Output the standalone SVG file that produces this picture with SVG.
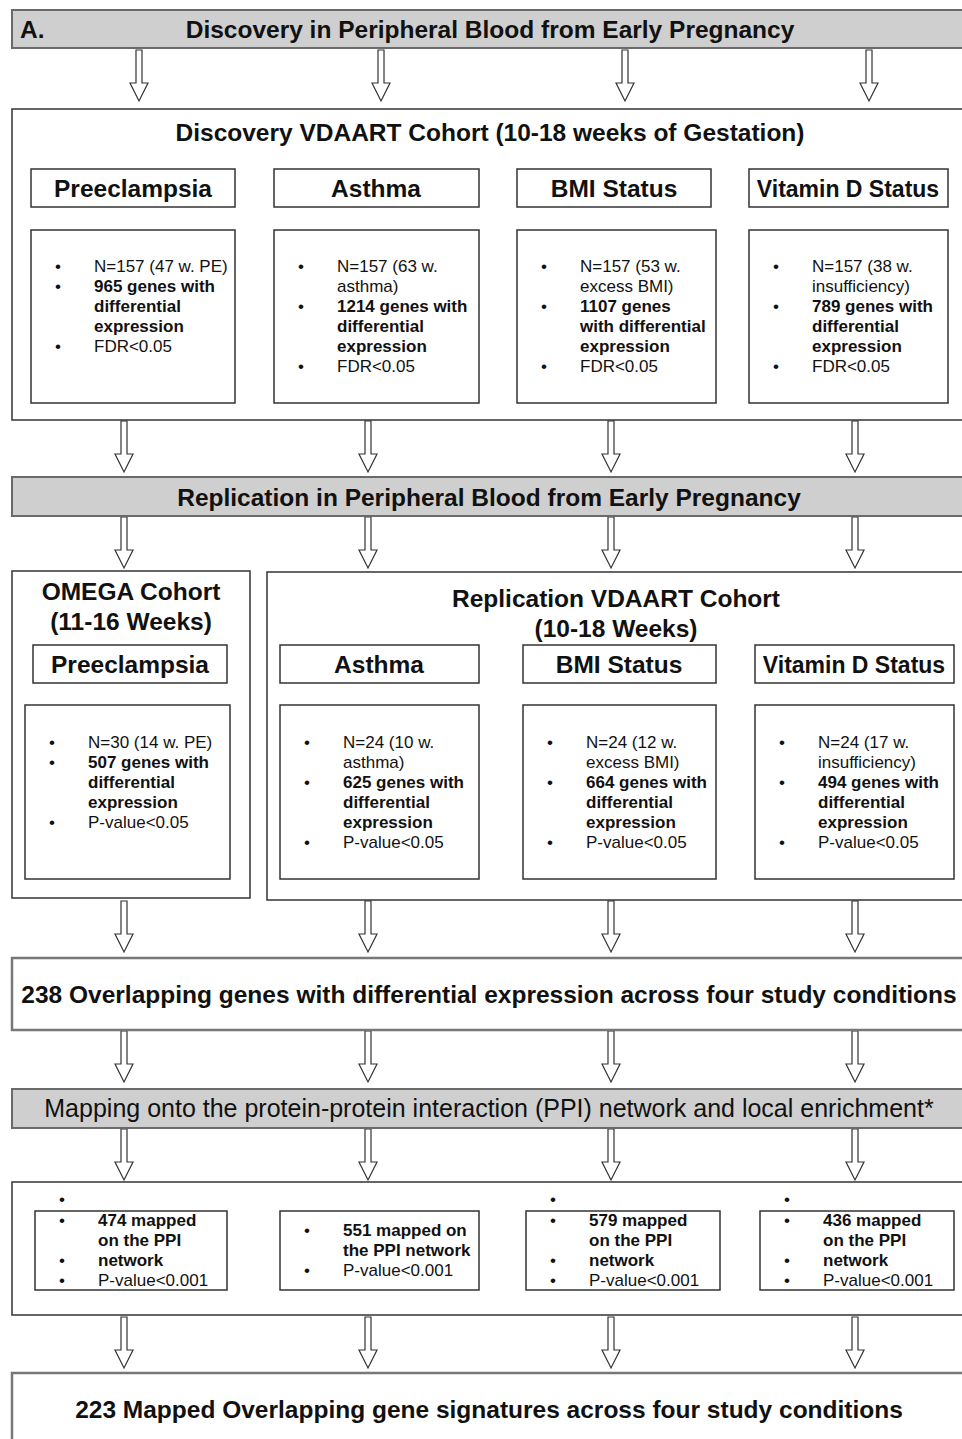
<svg xmlns="http://www.w3.org/2000/svg" width="962" height="1439" viewBox="0 0 962 1439">
<defs>
<style>
.bar{fill:#cfcfcf;stroke:#6a6a6a;stroke-width:2}
.box{fill:#fff;stroke:#333;stroke-width:1.5}
.dbl{fill:#fff;stroke:#777;stroke-width:2.5}
.arr{fill:#fff;stroke:#333;stroke-width:1.2}
.h{font-family:"Liberation Sans",Arial,sans-serif;font-weight:bold;font-size:24.5px;fill:#111;text-anchor:middle}
.lab{font-family:"Liberation Sans",Arial,sans-serif;font-weight:bold;font-size:24.5px;fill:#111;text-anchor:middle}
.vd{font-size:23px}
.t{font-family:"Liberation Sans",Arial,sans-serif;font-size:17px;fill:#111}
.b{font-weight:bold}
</style>
<path id="ar" class="arr" d="M-3,0 L3,0 L3,33 L9,33 L0,51 L-9,33 L-3,33 Z"/>
</defs>

<g id="connectors">
<use href="#ar" x="139" y="50"/><use href="#ar" x="381" y="50"/><use href="#ar" x="625" y="50"/><use href="#ar" x="869" y="50"/>
<use href="#ar" x="124" y="421"/><use href="#ar" x="368" y="421"/><use href="#ar" x="611" y="421"/><use href="#ar" x="855" y="421"/>
<use href="#ar" x="124" y="517"/><use href="#ar" x="368" y="517"/><use href="#ar" x="611" y="517"/><use href="#ar" x="855" y="517"/>
<use href="#ar" x="124" y="901"/><use href="#ar" x="368" y="901"/><use href="#ar" x="611" y="901"/><use href="#ar" x="855" y="901"/>
<use href="#ar" x="124" y="1031"/><use href="#ar" x="368" y="1031"/><use href="#ar" x="611" y="1031"/><use href="#ar" x="855" y="1031"/>
<use href="#ar" x="124" y="1129"/><use href="#ar" x="368" y="1129"/><use href="#ar" x="611" y="1129"/><use href="#ar" x="855" y="1129"/>
<use href="#ar" x="124" y="1317"/><use href="#ar" x="368" y="1317"/><use href="#ar" x="611" y="1317"/><use href="#ar" x="855" y="1317"/>
</g>

<g id="header-discovery">
<rect class="bar" x="12" y="10" width="960" height="38"/>
<text class="h" x="20" y="38" style="text-anchor:start">A.</text>
<text class="h" x="490" y="38">Discovery in Peripheral Blood from Early Pregnancy</text>
</g>

<g id="discovery-cohort">
<rect class="box" x="12" y="109" width="960" height="311"/>
<text class="h" x="490" y="141">Discovery VDAART Cohort (10-18 weeks of Gestation)</text>
</g>

<g id="d-pe-label"><rect class="box" x="31" y="169" width="204" height="38"/><text class="lab" x="133" y="197">Preeclampsia</text></g>
<g id="d-as-label"><rect class="box" x="274" y="169" width="205" height="38"/><text class="lab" x="376" y="197">Asthma</text></g>
<g id="d-bmi-label"><rect class="box" x="517" y="169" width="194" height="38"/><text class="lab" x="614" y="197">BMI Status</text></g>
<g id="d-vd-label"><rect class="box" x="749" y="169" width="199" height="38"/><text class="lab vd" x="848" y="197">Vitamin D Status</text></g>

<g id="d-pe">
<rect class="box" x="31" y="230" width="204" height="173"/>
<text class="t"><tspan x="55" y="272">•</tspan><tspan x="55" y="292">•</tspan><tspan x="55" y="352">•</tspan></text>
<text class="t"><tspan x="94" y="272">N=157 (47 w. PE)</tspan><tspan x="94" y="292" class="b">965 genes with</tspan><tspan x="94" y="312" class="b">differential</tspan><tspan x="94" y="332" class="b">expression</tspan><tspan x="94" y="352">FDR&lt;0.05</tspan></text>
</g>
<g id="d-as">
<rect class="box" x="274" y="230" width="205" height="173"/>
<text class="t"><tspan x="298" y="272">•</tspan><tspan x="298" y="312">•</tspan><tspan x="298" y="372">•</tspan></text>
<text class="t"><tspan x="337" y="272">N=157 (63 w.</tspan><tspan x="337" y="292">asthma)</tspan><tspan x="337" y="312" class="b">1214 genes with</tspan><tspan x="337" y="332" class="b">differential</tspan><tspan x="337" y="352" class="b">expression</tspan><tspan x="337" y="372">FDR&lt;0.05</tspan></text>
</g>
<g id="d-bmi">
<rect class="box" x="517" y="230" width="199" height="173"/>
<text class="t"><tspan x="541" y="272">•</tspan><tspan x="541" y="312">•</tspan><tspan x="541" y="372">•</tspan></text>
<text class="t"><tspan x="580" y="272">N=157 (53 w.</tspan><tspan x="580" y="292">excess BMI)</tspan><tspan x="580" y="312" class="b">1107 genes</tspan><tspan x="580" y="332" class="b">with differential</tspan><tspan x="580" y="352" class="b">expression</tspan><tspan x="580" y="372">FDR&lt;0.05</tspan></text>
</g>
<g id="d-vd">
<rect class="box" x="749" y="230" width="199" height="173"/>
<text class="t"><tspan x="773" y="272">•</tspan><tspan x="773" y="312">•</tspan><tspan x="773" y="372">•</tspan></text>
<text class="t"><tspan x="812" y="272">N=157 (38 w.</tspan><tspan x="812" y="292">insufficiency)</tspan><tspan x="812" y="312" class="b">789 genes with</tspan><tspan x="812" y="332" class="b">differential</tspan><tspan x="812" y="352" class="b">expression</tspan><tspan x="812" y="372">FDR&lt;0.05</tspan></text>
</g>

<g id="header-replication">
<rect class="bar" x="12" y="477" width="960" height="39"/>
<text class="h" x="489" y="506">Replication in Peripheral Blood from Early Pregnancy</text>
</g>

<g id="omega-cohort">
<rect class="box" x="12" y="571" width="238" height="327"/>
<text class="h" x="131" y="600">OMEGA Cohort</text>
<text class="h" x="131" y="630">(11-16 Weeks)</text>
</g>
<g id="replication-cohort">
<rect class="box" x="267" y="572" width="705" height="328"/>
<text class="h" x="616" y="607">Replication VDAART Cohort</text>
<text class="h" x="616" y="637">(10-18 Weeks)</text>
</g>

<g id="r-pe-label"><rect class="box" x="33" y="645" width="194" height="38"/><text class="lab" x="130" y="673">Preeclampsia</text></g>
<g id="r-as-label"><rect class="box" x="280" y="645" width="199" height="38"/><text class="lab" x="379" y="673">Asthma</text></g>
<g id="r-bmi-label"><rect class="box" x="523" y="645" width="193" height="38"/><text class="lab" x="619" y="673">BMI Status</text></g>
<g id="r-vd-label"><rect class="box" x="755" y="645" width="199" height="38"/><text class="lab vd" x="854" y="673">Vitamin D Status</text></g>

<g id="r-pe">
<rect class="box" x="25" y="705" width="205" height="174"/>
<text class="t"><tspan x="49" y="748">•</tspan><tspan x="49" y="768">•</tspan><tspan x="49" y="828">•</tspan></text>
<text class="t"><tspan x="88" y="748">N=30 (14 w. PE)</tspan><tspan x="88" y="768" class="b">507 genes with</tspan><tspan x="88" y="788" class="b">differential</tspan><tspan x="88" y="808" class="b">expression</tspan><tspan x="88" y="828">P-value&lt;0.05</tspan></text>
</g>
<g id="r-as">
<rect class="box" x="280" y="705" width="199" height="174"/>
<text class="t"><tspan x="304" y="748">•</tspan><tspan x="304" y="788">•</tspan><tspan x="304" y="848">•</tspan></text>
<text class="t"><tspan x="343" y="748">N=24 (10 w.</tspan><tspan x="343" y="768">asthma)</tspan><tspan x="343" y="788" class="b">625 genes with</tspan><tspan x="343" y="808" class="b">differential</tspan><tspan x="343" y="828" class="b">expression</tspan><tspan x="343" y="848">P-value&lt;0.05</tspan></text>
</g>
<g id="r-bmi">
<rect class="box" x="523" y="705" width="193" height="174"/>
<text class="t"><tspan x="547" y="748">•</tspan><tspan x="547" y="788">•</tspan><tspan x="547" y="848">•</tspan></text>
<text class="t"><tspan x="586" y="748">N=24 (12 w.</tspan><tspan x="586" y="768">excess BMI)</tspan><tspan x="586" y="788" class="b">664 genes with</tspan><tspan x="586" y="808" class="b">differential</tspan><tspan x="586" y="828" class="b">expression</tspan><tspan x="586" y="848">P-value&lt;0.05</tspan></text>
</g>
<g id="r-vd">
<rect class="box" x="755" y="705" width="199" height="174"/>
<text class="t"><tspan x="779" y="748">•</tspan><tspan x="779" y="788">•</tspan><tspan x="779" y="848">•</tspan></text>
<text class="t"><tspan x="818" y="748">N=24 (17 w.</tspan><tspan x="818" y="768">insufficiency)</tspan><tspan x="818" y="788" class="b">494 genes with</tspan><tspan x="818" y="808" class="b">differential</tspan><tspan x="818" y="828" class="b">expression</tspan><tspan x="818" y="848">P-value&lt;0.05</tspan></text>
</g>

<g id="overlap-238">
<rect class="dbl" x="12" y="958" width="960" height="72"/>
<text class="h" x="489" y="1003">238 Overlapping genes with differential expression across four study conditions</text>
</g>

<g id="header-mapping">
<rect class="bar" x="12" y="1089" width="960" height="39"/>
<text class="h" x="489" y="1117" style="font-weight:normal;font-size:25px">Mapping onto the protein-protein interaction (PPI) network and local enrichment*</text>
</g>

<g id="ppi-outer">
<rect class="box" x="12" y="1182" width="960" height="133"/>
</g>
<g id="ppi-pe">
<rect class="box" x="35" y="1211" width="192" height="79"/>
<text class="t"><tspan x="59" y="1205">•</tspan><tspan x="59" y="1226">•</tspan><tspan x="59" y="1266">•</tspan><tspan x="59" y="1286">•</tspan></text>
<text class="t"><tspan x="98" y="1226" class="b">474 mapped</tspan><tspan x="98" y="1246" class="b">on the PPI</tspan><tspan x="98" y="1266" class="b">network</tspan><tspan x="98" y="1286">P-value&lt;0.001</tspan></text>
</g>
<g id="ppi-as">
<rect class="box" x="280" y="1211" width="199" height="79"/>
<text class="t"><tspan x="304" y="1236">•</tspan><tspan x="304" y="1276">•</tspan></text>
<text class="t"><tspan x="343" y="1236" class="b">551 mapped on</tspan><tspan x="343" y="1256" class="b">the PPI network</tspan><tspan x="343" y="1276">P-value&lt;0.001</tspan></text>
</g>
<g id="ppi-bmi">
<rect class="box" x="526" y="1211" width="194" height="79"/>
<text class="t"><tspan x="550" y="1205">•</tspan><tspan x="550" y="1226">•</tspan><tspan x="550" y="1266">•</tspan><tspan x="550" y="1286">•</tspan></text>
<text class="t"><tspan x="589" y="1226" class="b">579 mapped</tspan><tspan x="589" y="1246" class="b">on the PPI</tspan><tspan x="589" y="1266" class="b">network</tspan><tspan x="589" y="1286">P-value&lt;0.001</tspan></text>
</g>
<g id="ppi-vd">
<rect class="box" x="760" y="1211" width="194" height="79"/>
<text class="t"><tspan x="784" y="1205">•</tspan><tspan x="784" y="1226">•</tspan><tspan x="784" y="1266">•</tspan><tspan x="784" y="1286">•</tspan></text>
<text class="t"><tspan x="823" y="1226" class="b">436 mapped</tspan><tspan x="823" y="1246" class="b">on the PPI</tspan><tspan x="823" y="1266" class="b">network</tspan><tspan x="823" y="1286">P-value&lt;0.001</tspan></text>
</g>

<g id="final-223">
<rect class="dbl" x="12" y="1373" width="960" height="80"/>
<text class="h" x="489" y="1418">223 Mapped Overlapping gene signatures across four study conditions</text>
</g>
</svg>
